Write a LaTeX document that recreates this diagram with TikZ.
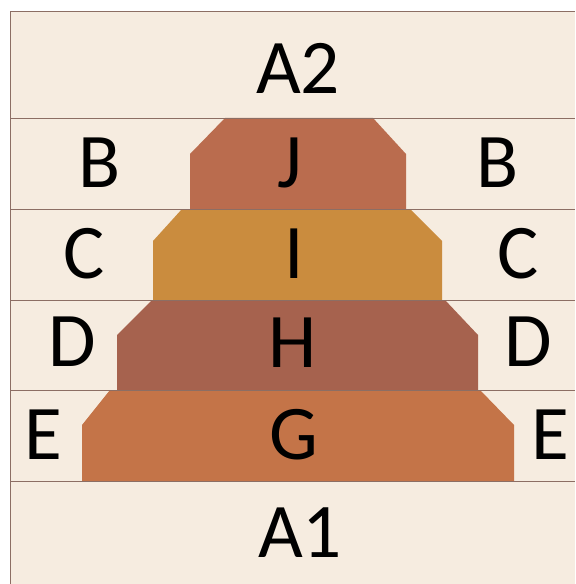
\documentclass[tikz,border=0pt]{standalone}
\usepackage{fontspec}
\setmainfont{Carlito}
\usetikzlibrary{positioning}
\definecolor{quiltCream}{RGB}{246,236,224}
\definecolor{quiltSeam}{RGB}{140,110,100}
\definecolor{quiltRust}{RGB}{186,108,78}
\definecolor{quiltGold}{RGB}{202,140,62}
\definecolor{quiltMauve}{RGB}{166,98,78}
\definecolor{quiltCopper}{RGB}{196,116,72}

\begin{document}
\begin{tikzpicture}[
    x=0.02cm, y=-0.02cm,
    every node/.style={font=\fontsize{44}{44}\selectfont, text=black, inner sep=0pt},
    seam/.style={draw=quiltSeam, line width=0.5pt},
    tier/.style={draw=none}
]
\useasboundingbox (0,0) rectangle (575,584);
\fill[white] (0,0) rectangle (575,584);
\fill[quiltCream] (10,11) rectangle (575,584);

% stacked tiers: top y, bottom y, left top/bottom x, right top/bottom x, chamfer y
\foreach \ya/\yb/\la/\lb/\ra/\rb/\yc/\col in {
    118/209/225/190/373/406/154/quiltRust,
    209/300/182/153/410/442/241/quiltGold,
    300/390/152/117/445/478/335/quiltMauve,
    390/481/110/82/480/514/425/quiltCopper} {
  \fill[tier, \col] (\la,\ya) -- (\ra,\ya) -- (\rb,\yc) -- (\rb,\yb)
    -- (\lb,\yb) -- (\lb,\yc) -- cycle;
}

\foreach \y in {118,209,300,390,481} \draw[seam] (10,\y) -- (575,\y);
\draw[seam] (10,584) -- (10,11) -- (575,11);

\node (a2) at (298,68) {A2};
\node (a1) at (300,533) {A1};
\foreach \n/\t/\xl/\xm/\xr/\y in {b/B/100/290/498/163, c/C/84/294/518/254,
    d/D/72/293/528/342, e/E/43/294/550/435} {
  \node (\n l) at (\xl,\y) {\t};
  \node (\n r) at (\xr,\y) {\t};
}
\node (j) at (290,163) {J};
\node (i) at (294,254) {I};
\node (h) at (293,343) {H};
\node (g) at (294,435) {G};
\end{tikzpicture}
\end{document}
